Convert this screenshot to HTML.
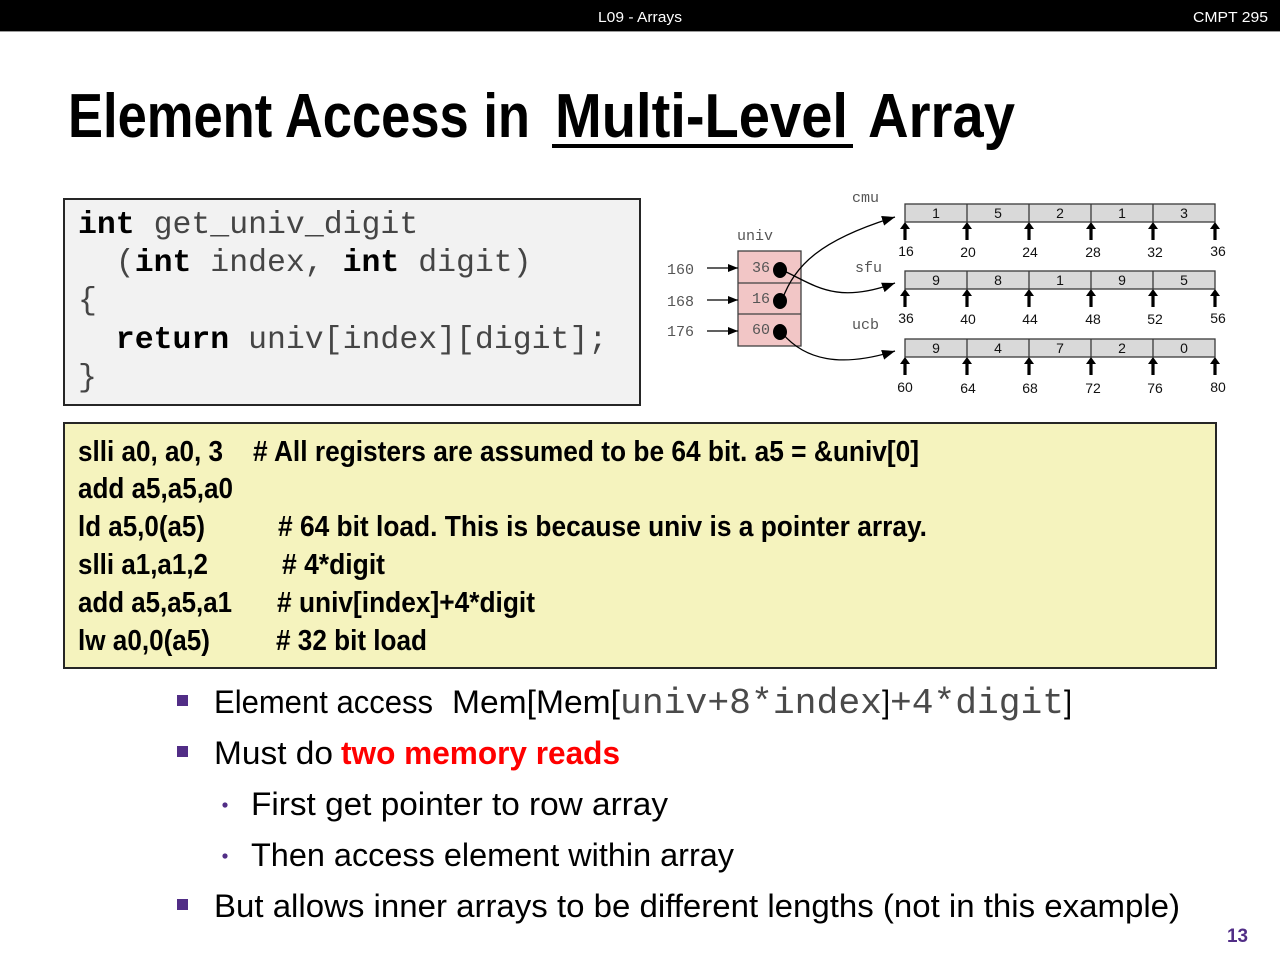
<!DOCTYPE html>
<html>
<head>
<meta charset="utf-8">
<style>
  html,body{margin:0;padding:0;background:#fff;}
  body{width:1280px;height:960px;overflow:hidden;}
  svg{display:block;}
  .sans{font-family:"Liberation Sans",Arial,sans-serif;}
  .narrow{font-family:"Liberation Sans Narrow","Liberation Sans",Arial,sans-serif;font-weight:bold;}
  .mono{font-family:"Liberation Mono","Courier New",monospace;}
</style>
</head>
<body>
<svg width="1280" height="960" viewBox="0 0 1280 960" xmlns="http://www.w3.org/2000/svg">
  <defs>
    <marker id="ah" viewBox="0 0 10 10" refX="10" refY="5" markerWidth="13" markerHeight="10" markerUnits="userSpaceOnUse" orient="auto" preserveAspectRatio="none">
      <path d="M0,0 L10,5 L0,10 z" fill="#000"/>
    </marker>
    <marker id="ahs" viewBox="0 0 10 10" refX="10" refY="5" markerWidth="10" markerHeight="8" markerUnits="userSpaceOnUse" orient="auto" preserveAspectRatio="none">
      <path d="M0,0 L10,5 L0,10 z" fill="#000"/>
    </marker>
  </defs>

  <!-- Top bar -->
  <rect x="0" y="0" width="1280" height="31" fill="#000"/>
  <rect x="0" y="31" width="1280" height="1" fill="#9a9a9a"/>
  <text class="sans" x="598" y="22" font-size="15" fill="#fff" textLength="84" lengthAdjust="spacingAndGlyphs">L09 - Arrays</text>
  <text class="sans" x="1193" y="22" font-size="15" fill="#fff" textLength="75" lengthAdjust="spacingAndGlyphs">CMPT 295</text>

  <!-- Title -->
  <text class="sans" font-weight="bold" font-size="62" fill="#000" x="68" y="137" textLength="462" lengthAdjust="spacingAndGlyphs">Element Access in</text>
  <text class="sans" font-weight="bold" font-size="62" fill="#000" x="555" y="137" textLength="293" lengthAdjust="spacingAndGlyphs">Multi-Level</text>
  <text class="sans" font-weight="bold" font-size="62" fill="#000" x="868" y="137" textLength="147" lengthAdjust="spacingAndGlyphs">Array</text>
  <rect x="552" y="144" width="301" height="4" fill="#000"/>

  <!-- Code box -->
  <rect x="64" y="199" width="576" height="206" fill="#f2f2f2" stroke="#262626" stroke-width="2"/>
  <g class="mono" font-size="31.5" fill="#454545">
    <text x="78" y="233" font-weight="bold" fill="#000">int</text>
    <text x="153.6" y="233">get_univ_digit</text>
    <text x="115.8" y="271">(</text>
    <text x="134.7" y="271" font-weight="bold" fill="#000">int</text>
    <text x="210.3" y="271">index,</text>
    <text x="342.6" y="271" font-weight="bold" fill="#000">int</text>
    <text x="418.2" y="271">digit)</text>
    <text x="78" y="309">{</text>
    <text x="115.8" y="348" font-weight="bold" fill="#000">return</text>
    <text x="248.1" y="348">univ[index][digit];</text>
    <text x="78" y="386">}</text>
  </g>

  <!-- Diagram: univ -->
  <g class="mono" font-size="15" fill="#555">
    <text x="852" y="202">cmu</text>
    <text x="737" y="240">univ</text>
    <text x="855" y="272">sfu</text>
    <text x="852" y="329">ucb</text>
    <text x="667" y="274">160</text>
    <text x="667" y="306">168</text>
    <text x="667" y="336">176</text>
  </g>
  <rect x="738" y="251" width="63" height="95" fill="#f2c6c6" stroke="#404040" stroke-width="1.3"/>
  <line x1="738" y1="283" x2="801" y2="283" stroke="#404040" stroke-width="1.3"/>
  <line x1="738" y1="314" x2="801" y2="314" stroke="#404040" stroke-width="1.3"/>
  <g class="mono" font-size="15" fill="#555">
    <text x="752" y="272">36</text>
    <text x="752" y="303">16</text>
    <text x="752" y="334">60</text>
  </g>
  <!-- horizontal arrows -->
  <line x1="707" y1="268" x2="738" y2="268" stroke="#000" stroke-width="1.3" marker-end="url(#ahs)"/>
  <line x1="707" y1="300" x2="738" y2="300" stroke="#000" stroke-width="1.3" marker-end="url(#ahs)"/>
  <line x1="707" y1="331" x2="738" y2="331" stroke="#000" stroke-width="1.3" marker-end="url(#ahs)"/>
  <!-- curves -->
  <path d="M782,300 C795,265 820,240 895,217" fill="none" stroke="#000" stroke-width="1.3" marker-end="url(#ah)"/>
  <path d="M782,270 C815,285 835,305 895,283" fill="none" stroke="#000" stroke-width="1.3" marker-end="url(#ah)"/>
  <path d="M782,333 C805,360 840,368 895,351" fill="none" stroke="#000" stroke-width="1.3" marker-end="url(#ah)"/>
  <!-- dots -->
  <ellipse cx="780" cy="270" rx="7" ry="8" fill="#000"/>
  <ellipse cx="780" cy="301" rx="7" ry="8" fill="#000"/>
  <ellipse cx="780" cy="332" rx="7" ry="8" fill="#000"/>

  <!-- Arrays -->
  <g stroke="#3a3a3a" stroke-width="1.3" fill="#d9d9d9">
    <rect x="905" y="204" width="310" height="18"/>
    <rect x="905" y="271" width="310" height="18"/>
    <rect x="905" y="339" width="310" height="18"/>
    <path d="M967,204 V222 M1029,204 V222 M1091,204 V222 M1153,204 V222" fill="none"/>
    <path d="M967,271 V289 M1029,271 V289 M1091,271 V289 M1153,271 V289" fill="none"/>
    <path d="M967,339 V357 M1029,339 V357 M1091,339 V357 M1153,339 V357" fill="none"/>
  </g>
  <g class="sans" font-size="14" fill="#111" text-anchor="middle">
    <text x="936" y="218">1</text><text x="998" y="218">5</text><text x="1060" y="218">2</text><text x="1122" y="218">1</text><text x="1184" y="218">3</text>
    <text x="936" y="285">9</text><text x="998" y="285">8</text><text x="1060" y="285">1</text><text x="1122" y="285">9</text><text x="1184" y="285">5</text>
    <text x="936" y="353">9</text><text x="998" y="353">4</text><text x="1060" y="353">7</text><text x="1122" y="353">2</text><text x="1184" y="353">0</text>
  </g>
  <!-- up arrows -->
  <g fill="#000">
    <polygon points="900,229 905,222 910,229"/><rect x="903.4" y="228" width="3.2" height="12"/>
    <polygon points="962,229 967,222 972,229"/><rect x="965.4" y="228" width="3.2" height="12"/>
    <polygon points="1024,229 1029,222 1034,229"/><rect x="1027.4" y="228" width="3.2" height="12"/>
    <polygon points="1086,229 1091,222 1096,229"/><rect x="1089.4" y="228" width="3.2" height="12"/>
    <polygon points="1148,229 1153,222 1158,229"/><rect x="1151.4" y="228" width="3.2" height="12"/>
    <polygon points="1210,229 1215,222 1220,229"/><rect x="1213.4" y="228" width="3.2" height="12"/>

    <polygon points="900,296 905,289 910,296"/><rect x="903.4" y="295" width="3.2" height="12"/>
    <polygon points="962,296 967,289 972,296"/><rect x="965.4" y="295" width="3.2" height="12"/>
    <polygon points="1024,296 1029,289 1034,296"/><rect x="1027.4" y="295" width="3.2" height="12"/>
    <polygon points="1086,296 1091,289 1096,296"/><rect x="1089.4" y="295" width="3.2" height="12"/>
    <polygon points="1148,296 1153,289 1158,296"/><rect x="1151.4" y="295" width="3.2" height="12"/>
    <polygon points="1210,296 1215,289 1220,296"/><rect x="1213.4" y="295" width="3.2" height="12"/>

    <polygon points="900,364 905,357 910,364"/><rect x="903.4" y="363" width="3.2" height="12"/>
    <polygon points="962,364 967,357 972,364"/><rect x="965.4" y="363" width="3.2" height="12"/>
    <polygon points="1024,364 1029,357 1034,364"/><rect x="1027.4" y="363" width="3.2" height="12"/>
    <polygon points="1086,364 1091,357 1096,364"/><rect x="1089.4" y="363" width="3.2" height="12"/>
    <polygon points="1148,364 1153,357 1158,364"/><rect x="1151.4" y="363" width="3.2" height="12"/>
    <polygon points="1210,364 1215,357 1220,364"/><rect x="1213.4" y="363" width="3.2" height="12"/>
  </g>
  <g class="sans" font-size="14" fill="#111" text-anchor="middle">
    <text x="906" y="256">16</text><text x="968" y="257">20</text><text x="1030" y="257">24</text><text x="1093" y="257">28</text><text x="1155" y="257">32</text><text x="1218" y="256">36</text>
    <text x="906" y="323">36</text><text x="968" y="324">40</text><text x="1030" y="324">44</text><text x="1093" y="324">48</text><text x="1155" y="324">52</text><text x="1218" y="323">56</text>
    <text x="905" y="392">60</text><text x="968" y="393">64</text><text x="1030" y="393">68</text><text x="1093" y="393">72</text><text x="1155" y="393">76</text><text x="1218" y="392">80</text>
  </g>

  <!-- Yellow assembly box -->
  <rect x="64" y="423" width="1152" height="245" fill="#f5f3be" stroke="#262626" stroke-width="2"/>
  <g class="narrow" font-size="29" fill="#000">
    <text x="78" y="461" textLength="145" lengthAdjust="spacingAndGlyphs">slli a0, a0, 3</text>
    <text x="253" y="461" textLength="666" lengthAdjust="spacingAndGlyphs"># All registers are assumed to be 64 bit. a5 = &amp;univ[0]</text>
    <text x="78" y="498" textLength="155" lengthAdjust="spacingAndGlyphs">add a5,a5,a0</text>
    <text x="78" y="536" textLength="127" lengthAdjust="spacingAndGlyphs">ld a5,0(a5)</text>
    <text x="278" y="536" textLength="649" lengthAdjust="spacingAndGlyphs"># 64 bit load. This is because univ is a pointer array.</text>
    <text x="78" y="574" textLength="130" lengthAdjust="spacingAndGlyphs">slli a1,a1,2</text>
    <text x="282" y="574" textLength="103" lengthAdjust="spacingAndGlyphs"># 4*digit</text>
    <text x="78" y="612" textLength="154" lengthAdjust="spacingAndGlyphs">add a5,a5,a1</text>
    <text x="277" y="612" textLength="258" lengthAdjust="spacingAndGlyphs"># univ[index]+4*digit</text>
    <text x="78" y="650" textLength="132" lengthAdjust="spacingAndGlyphs">lw a0,0(a5)</text>
    <text x="276" y="650" textLength="151" lengthAdjust="spacingAndGlyphs"># 32 bit load</text>
  </g>

  <!-- Bullets -->
  <g fill="#512d86">
    <rect x="177" y="695" width="11" height="11"/>
    <rect x="177" y="746" width="11" height="11"/>
    <circle cx="225" cy="805" r="2.6"/>
    <circle cx="225" cy="856" r="2.6"/>
    <rect x="177" y="899" width="11" height="11"/>
  </g>
  <g class="sans" font-size="32" fill="#000">
    <text x="214" y="713" textLength="219" lengthAdjust="spacingAndGlyphs">Element access</text>
    <text x="452" y="713" textLength="168" lengthAdjust="spacingAndGlyphs">Mem[Mem[</text>
    <text x="882" y="713" textLength="8" lengthAdjust="spacingAndGlyphs">]</text>
    <text x="1064" y="713" textLength="8" lengthAdjust="spacingAndGlyphs">]</text>
    <text x="214" y="764" textLength="119" lengthAdjust="spacingAndGlyphs">Must do</text>
    <text x="341" y="764" textLength="279" lengthAdjust="spacingAndGlyphs" font-weight="bold" fill="#ff0000">two memory reads</text>
    <text x="251" y="815" textLength="417" lengthAdjust="spacingAndGlyphs">First get pointer to row array</text>
    <text x="251" y="866" textLength="483" lengthAdjust="spacingAndGlyphs">Then access element within array</text>
    <text x="214" y="917" textLength="966" lengthAdjust="spacingAndGlyphs">But allows inner arrays to be different lengths (not in this example)</text>
  </g>
  <g class="mono" font-size="36" fill="#4a4a4a">
    <text x="620" y="713" textLength="262" lengthAdjust="spacingAndGlyphs">univ+8*index</text>
    <text x="890" y="713" textLength="174" lengthAdjust="spacingAndGlyphs">+4*digit</text>
  </g>

  <!-- Page number -->
  <text class="sans" x="1227" y="942" font-size="19" font-weight="bold" fill="#512d86" textLength="21" lengthAdjust="spacingAndGlyphs">13</text>
</svg>
</body>
</html>
